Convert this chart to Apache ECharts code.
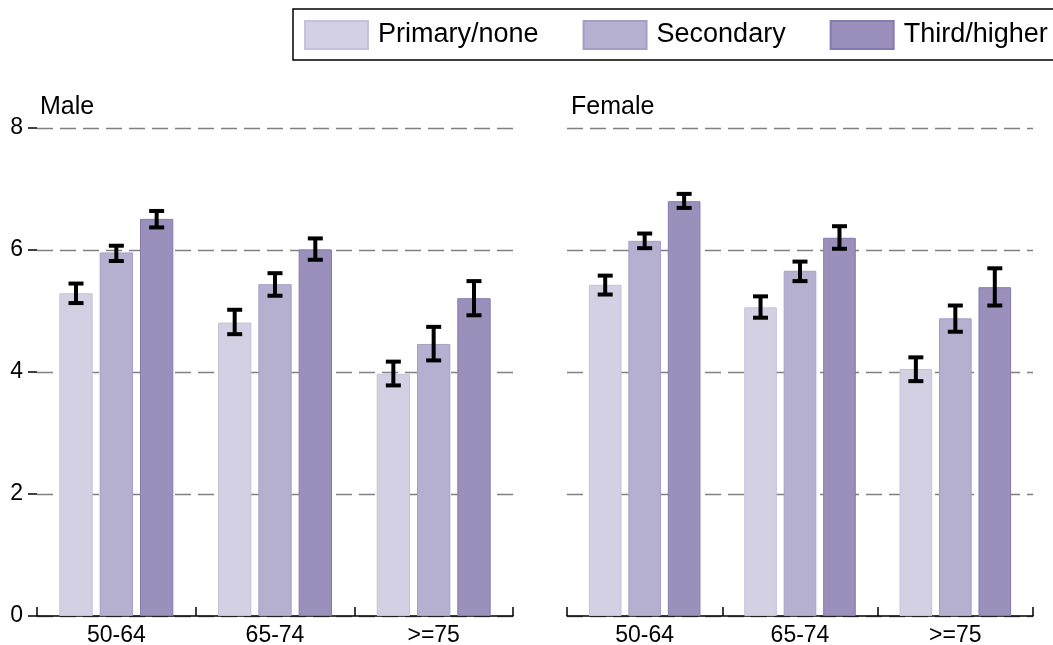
<!DOCTYPE html>
<html>
<head>
<meta charset="utf-8">
<script src="https://cdn.jsdelivr.net/npm/echarts@6/dist/echarts.min.js"></script>
<style>
html,body{margin:0;padding:0;background:#fff;}
#chart{width:1053px;height:645px;}
</style>
</head>
<body>
<div id="chart"></div>
<script>
const categories = ['50-64', '65-74', '>=75'];
const seriesNames = ['Primary/none', 'Secondary', 'Third/higher'];
const panelTitles = ['Male', 'Female'];

const malePrimary = [5.29, 4.81, 3.97];
const maleSecondary = [5.96, 5.44, 4.46];
const maleThird = [6.51, 6.01, 5.21];
const femalePrimary = [5.43, 5.06, 4.05];
const femaleSecondary = [6.15, 5.66, 4.88];
const femaleThird = [6.80, 6.20, 5.39];

const maleLowPrimary = [5.13, 4.62, 3.78];
const maleHighPrimary = [5.45, 5.02, 4.17];
const maleLowSecondary = [5.82, 5.25, 4.19];
const maleHighSecondary = [6.07, 5.62, 4.74];
const maleLowThird = [6.37, 5.84, 4.93];
const maleHighThird = [6.64, 6.19, 5.49];
const femaleLowPrimary = [5.27, 4.89, 3.85];
const femaleHighPrimary = [5.58, 5.24, 4.24];
const femaleLowSecondary = [6.03, 5.49, 4.66];
const femaleHighSecondary = [6.27, 5.81, 5.09];
const femaleLowThird = [6.69, 6.02, 5.09];
const femaleHighThird = [6.92, 6.39, 5.70];

const yTicks = [0, 2, 4, 6, 8];

const fills = ['#d4d0e3', '#b5afd0', '#9a90bb'];
const borders = ['#c6c1db', '#a69ec6', '#8579ad'];
const FONT = 'Liberation Sans, Arial, sans-serif';
const BARW = 0.21;
const GAPR = 0.21;

const panels = [
  { means: [malePrimary, maleSecondary, maleThird],
    lows: [maleLowPrimary, maleLowSecondary, maleLowThird],
    highs: [maleHighPrimary, maleHighSecondary, maleHighThird] },
  { means: [femalePrimary, femaleSecondary, femaleThird],
    lows: [femaleLowPrimary, femaleLowSecondary, femaleLowThird],
    highs: [femaleHighPrimary, femaleHighSecondary, femaleHighThird] }
];

function errRender(si) {
  return function (params, api) {
    const cat = api.value(0);
    const hi = api.value(1);
    const lo = api.value(2);
    const band = api.size([1, 0])[0];
    const bw = band * BARW;
    const gap = bw * GAPR;
    const off = (si - 1) * (bw + gap);
    const pHi = api.coord([cat, hi]);
    const pLo = api.coord([cat, lo]);
    const x = pHi[0] + off;
    const hw = 7.5;
    const st = { stroke: '#000', lineWidth: 4 };
    return {
      type: 'group',
      children: [
        { type: 'line', shape: { x1: x, y1: pHi[1], x2: x, y2: pLo[1] }, style: st },
        { type: 'line', shape: { x1: x - hw, y1: pHi[1], x2: x + hw, y2: pHi[1] }, style: st },
        { type: 'line', shape: { x1: x - hw, y1: pLo[1], x2: x + hw, y2: pLo[1] }, style: st }
      ]
    };
  };
}

const grids = [
  { left: 37, right: 540, top: 128, bottom: 29, containLabel: false, outerBoundsMode: 'none' },
  { left: 567, right: 20, top: 128, bottom: 29, containLabel: false, outerBoundsMode: 'none' }
];

const xAxes = grids.map((g, i) => ({
  type: 'category',
  gridIndex: i,
  data: categories,
  axisLine: { show: true, lineStyle: { color: '#000', width: 1.5 } },
  axisTick: { show: true, inside: true, length: 9, lineStyle: { color: '#000', width: 1.5 } },
  axisLabel: { color: '#000', fontSize: 23, fontFamily: FONT, margin: 8 },
  splitLine: { show: false }
}));

const yAxes = grids.map((g, i) => ({
  type: 'value',
  gridIndex: i,
  min: yTicks[0],
  max: yTicks[yTicks.length - 1],
  interval: 2,
  axisLine: { show: false },
  axisTick: { show: i === 0, length: 9, lineStyle: { color: '#000', width: 1.5 } },
  axisLabel: { show: i === 0, color: '#000', fontSize: 23, fontFamily: FONT, margin: 14 },
  splitLine: { show: true, lineStyle: { color: '#808080', width: 1.3, type: [16, 7] } }
}));

const series = [];
panels.forEach((p, pi) => {
  p.means.forEach((m, si) => {
    series.push({
      type: 'bar',
      name: seriesNames[si],
      xAxisIndex: pi,
      yAxisIndex: pi,
      data: m,
      barWidth: (BARW * 100) + '%',
      barGap: (GAPR * 100) + '%',
      itemStyle: { color: fills[si], borderColor: borders[si], borderWidth: 1 },
      emphasis: { disabled: true },
      z: 2
    });
  });
  p.means.forEach((m, si) => {
    series.push({
      type: 'custom',
      name: 'err' + pi + si,
      xAxisIndex: pi,
      yAxisIndex: pi,
      renderItem: errRender(si),
      data: categories.map((c, ci) => [ci, p.highs[si][ci], p.lows[si][ci]]),
      encode: { x: 0, y: [1, 2] },
      z: 5,
      silent: true
    });
  });
});

const chart = echarts.init(document.getElementById('chart'), null, { renderer: 'canvas' });
chart.setOption({
  animation: false,
  backgroundColor: '#fff',
  title: [
    { text: panelTitles[0], left: 40, top: 95, padding: 0,
      textStyle: { color: '#000', fontSize: 25, fontWeight: 'normal', fontFamily: FONT } },
    { text: panelTitles[1], left: 571, top: 95, padding: 0,
      textStyle: { color: '#000', fontSize: 25, fontWeight: 'normal', fontFamily: FONT } }
  ],
  legend: {
    data: seriesNames,
    left: 293,
    top: 9,
    width: 900,
    orient: 'horizontal',
    padding: [11, 40, 10, 11],
    borderColor: '#000',
    borderWidth: 1.5,
    itemWidth: 63,
    itemHeight: 28,
    itemGap: 44,
    icon: 'rect',
    textStyle: { color: '#000', fontSize: 27, fontFamily: FONT, padding: [0, 0, 0, 5] },
    selectedMode: false
  },
  grid: grids,
  xAxis: xAxes,
  yAxis: yAxes,
  series: series
});
</script>
</body>
</html>
